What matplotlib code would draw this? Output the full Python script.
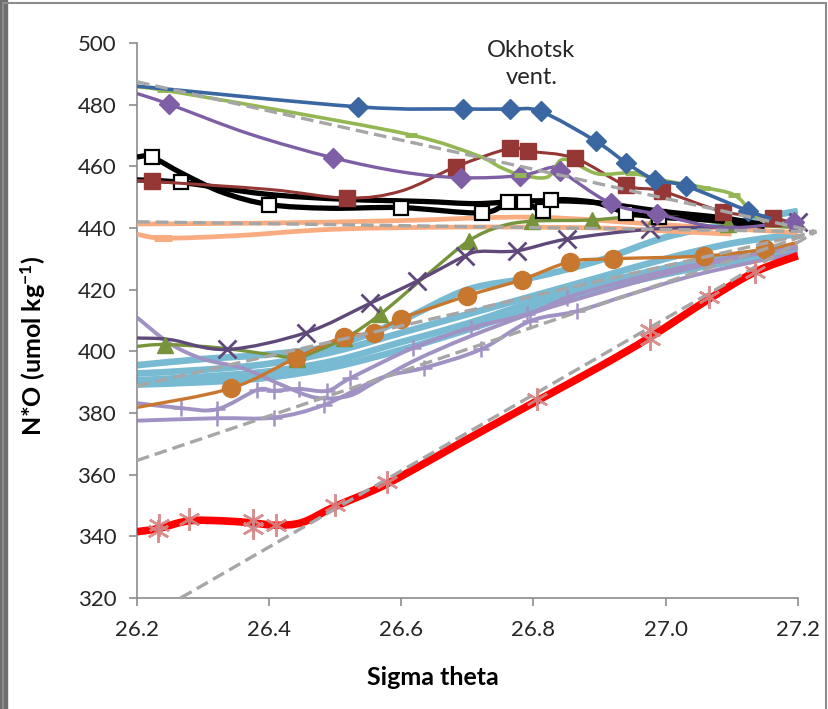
import matplotlib
matplotlib.use("Agg")
import matplotlib.pyplot as plt
from matplotlib.patches import Rectangle, PathPatch
from matplotlib.path import Path

plt.rcParams['font.family'] = ['Lato', 'DejaVu Sans']
plt.rcParams['mathtext.default'] = 'regular'

# mixing lines (gray dashed): start points, all meet at one end point
mix_x0 = [26.2, 26.2, 26.2, 26.2, 26.266]
mix_y0 = [487.4, 442.0, 388.8, 364.6, 320.0]
mix_end = (27.228, 438.8)

# light blue band
lb_x = [26.2, 26.3, 26.4, 26.5, 26.6, 26.7, 26.8, 26.9, 27.0, 27.1, 27.2]
lb1_y = [395.5, 397.5, 399.0, 402.0, 410.0, 420.0, 424.0, 429.5, 437.0, 441.5, 445.5]
lb2_y = [392.8, 394.0, 396.0, 400.0, 406.0, 412.0, 418.0, 424.0, 430.0, 435.0, 438.0]
lb3_y = [390.6, 391.8, 393.5, 397.0, 403.0, 409.0, 416.0, 422.0, 427.0, 431.0, 433.5]
lb4_y = [389.2, 390.0, 391.5, 395.0, 400.5, 407.0, 414.0, 420.0, 425.0, 429.0, 431.5]

# lavender lines with + markers
lv1_x = [26.2, 26.25, 26.3, 26.36, 26.42, 26.47, 26.52, 26.56, 26.62, 26.7, 26.8, 26.9, 27.0, 27.1, 27.2]
lv1_y = [411.0, 402.5, 397.5, 394.5, 389.0, 385.0, 385.5, 390.0, 397.0, 404.5, 412.5, 419.0, 425.0, 430.0, 434.0]
lv2_x = [26.2, 26.266, 26.321, 26.382, 26.407, 26.445, 26.488, 26.523, 26.618, 26.705, 26.79, 26.851, 26.921, 27.0, 27.1, 27.2]
lv2_y = [383.2, 381.6, 381.2, 387.5, 387.2, 387.8, 387.2, 391.3, 401.1, 407.6, 412.0, 417.4, 421.8, 426.0, 430.5, 433.5]
lv3_x = [26.2, 26.321, 26.407, 26.483, 26.568, 26.634, 26.72, 26.795, 26.866, 26.947, 27.05, 27.2]
lv3_y = [377.5, 378.3, 378.5, 382.6, 391.3, 394.6, 400.6, 409.8, 413.0, 418.5, 425.0, 432.0]

# salmon lines
sa1_x = [26.2, 26.4, 26.6, 26.8, 27.0, 27.2]
sa1_y = [441.3, 441.6, 442.4, 443.5, 441.0, 438.5]
sa2_x = [26.2, 26.24, 26.35, 26.5, 26.7, 26.9, 27.0, 27.1]
sa2_y = [438.0, 436.7, 437.5, 439.6, 440.3, 440.0, 439.0, 438.0]

# blue diamonds
bl_x = [26.2, 26.534, 26.694, 26.764, 26.811, 26.894, 26.94, 26.984, 27.031, 27.124, 27.16]
bl_y = [486.0, 479.3, 478.6, 478.5, 477.8, 468.2, 461.2, 455.6, 453.6, 445.6, 443.0]

# light green with dash markers
gl_x = [26.2, 26.24, 26.4, 26.614, 26.715, 26.75, 26.78, 26.821, 26.846, 26.896, 26.947, 26.997, 27.058, 27.103, 27.129, 27.149, 27.2]
gl_y = [485.8, 484.7, 478.8, 470.2, 463.5, 459.7, 457.3, 456.5, 462.3, 457.6, 457.8, 455.4, 453.1, 450.8, 445.6, 442.3, 441.0]

# purple diamonds
pd_x = [26.2, 26.248, 26.37, 26.496, 26.6, 26.69, 26.78, 26.826, 26.84, 26.917, 26.987, 27.088, 27.194]
pd_y = [483.6, 480.2, 470.5, 462.8, 458.2, 456.3, 457.0, 459.6, 458.6, 448.0, 444.5, 440.1, 442.0]

# dark red squares
dr_x = [26.2, 26.222, 26.4, 26.518, 26.6, 26.683, 26.764, 26.792, 26.863, 26.94, 26.994, 27.087, 27.163, 27.19]
dr_y = [455.3, 455.1, 452.5, 449.7, 452.0, 459.9, 465.8, 464.9, 462.6, 453.8, 452.0, 445.3, 443.2, 441.8]

# black lines with open squares
bk1_x = [26.2, 26.222, 26.27, 26.33, 26.4, 26.49, 26.6, 26.722, 26.762, 26.786, 26.814, 26.826, 26.89, 26.94, 26.99, 27.07, 27.15]
bk1_y = [463.0, 463.0, 457.5, 451.5, 447.6, 446.4, 446.6, 444.9, 448.5, 448.4, 445.6, 449.0, 448.4, 445.0, 443.5, 442.5, 440.5]
bk2_x = [26.2, 26.266, 26.394, 26.514, 26.634, 26.714, 26.794, 26.89, 26.994, 27.082, 27.146]
bk2_y = [455.6, 454.8, 451.0, 449.3, 448.6, 447.9, 448.8, 448.3, 445.4, 443.4, 441.2]

# green triangles
gt_x = [26.2, 26.243, 26.33, 26.43, 26.442, 26.514, 26.568, 26.64, 26.702, 26.75, 26.798, 26.888, 26.986, 27.094, 27.194]
gt_y = [401.6, 402.2, 401.0, 398.0, 397.6, 404.2, 412.0, 425.0, 435.8, 440.5, 442.2, 442.6, 444.0, 441.4, 440.2]

# dark purple crosses
px_x = [26.2, 26.25, 26.336, 26.455, 26.553, 26.624, 26.697, 26.72, 26.775, 26.851, 26.977, 27.1, 27.2]
px_y = [404.3, 403.8, 400.6, 406.0, 415.6, 422.8, 431.0, 432.4, 432.6, 436.4, 439.6, 440.5, 442.0]

# orange circles
oc_x = [26.2, 26.342, 26.44, 26.514, 26.558, 26.6, 26.7, 26.782, 26.855, 26.92, 27.058, 27.151, 27.2]
oc_y = [381.8, 388.0, 397.8, 404.8, 405.9, 410.6, 418.0, 423.2, 429.0, 430.0, 430.9, 433.1, 435.3]

# red line and its asterisk markers
rd_x = [26.2, 26.232, 26.278, 26.33, 26.376, 26.41, 26.45, 26.499, 26.578, 26.7, 26.806, 26.9, 26.976, 27.066, 27.136, 27.2]
rd_y = [341.5, 342.5, 345.0, 345.0, 344.3, 343.6, 344.5, 349.6, 357.0, 371.5, 384.0, 395.0, 404.5, 417.0, 425.8, 431.0]
ast_x = [26.232, 26.234, 26.278, 26.376, 26.376, 26.41, 26.499, 26.578, 26.806, 26.976, 26.976, 27.066, 27.136]
ast_y = [341.6, 343.8, 345.6, 342.7, 345.3, 343.6, 350.1, 357.7, 384.5, 404.1, 406.8, 417.5, 425.8]


def smooth_path(xs, ys):
    # Excel style smoothed line: cubic bezier through the points
    n = len(xs)
    verts = [(xs[0], ys[0])]
    codes = [Path.MOVETO]
    for i in range(n - 1):
        a = max(i - 1, 0)
        d = min(i + 2, n - 1)
        c1 = (xs[i] + (xs[i + 1] - xs[a]) / 6, ys[i] + (ys[i + 1] - ys[a]) / 6)
        c2 = (xs[i + 1] - (xs[d] - xs[i]) / 6, ys[i + 1] - (ys[d] - ys[i]) / 6)
        verts += [c1, c2, (xs[i + 1], ys[i + 1])]
        codes += [Path.CURVE4] * 3
    return Path(verts, codes)


def series(ax, xs, ys, color, lw, z, marks=None, **mk):
    ax.add_patch(PathPatch(smooth_path(xs, ys), fill=False, ec=color, lw=lw,
                           capstyle='butt', joinstyle='round', zorder=z))
    if marks is not None:
        ax.plot([xs[i] for i in marks], [ys[i] for i in marks], linestyle='none',
                color=color, zorder=z + 0.1, **mk)


fig = plt.figure(figsize=(8.29, 7.09), dpi=100)
ax = fig.add_axes([0.1653, 0.1566, 0.8237, 0.7828])

for y in [lb1_y, lb2_y, lb3_y, lb4_y]:
    series(ax, lb_x, y, '#78BAD2', 4.8, 1)

lav = '#A192C4'
series(ax, lv1_x, lv1_y, lav, 2.8, 2)
series(ax, lv2_x, lv2_y, lav, 2.8, 2, list(range(1, 12)), marker='+', ms=12, mew=1.8)
series(ax, lv3_x, lv3_y, lav, 2.8, 2, [1, 2, 3, 5, 6, 7, 8], marker='+', ms=12, mew=1.8)

sal = '#F8AC80'
series(ax, sa1_x, sa1_y, sal, 3.4, 3)
series(ax, sa2_x, sa2_y, sal, 3.4, 3, [1], marker='_', ms=13, mew=5)

series(ax, gt_x, gt_y, '#77933C', 2.4, 4, [1, 4, 5, 6, 8, 10, 11, 12, 13], marker='^', ms=12)
series(ax, px_x, px_y, '#5F497A', 2.4, 4, [2, 3, 4, 5, 6, 8, 9, 10, 12], marker='x', ms=13, mew=2)
series(ax, oc_x, oc_y, '#C8772F', 2.4, 4, list(range(1, 12)), marker='o', ms=13)

series(ax, bk2_x, bk2_y, 'black', 3.8, 4, [1], marker='s', ms=10, mfc='white', mec='black', mew=1.6)
series(ax, bk1_x, bk1_y, 'black', 3.8, 4, [1, 4, 6, 7, 8, 9, 10, 11, 13, 14],
       marker='s', ms=10, mfc='white', mec='black', mew=1.6)

series(ax, dr_x, dr_y, '#953735', 2.2, 5, [1, 3, 5, 6, 7, 8, 9, 10, 11, 12], marker='s', ms=12)
series(ax, pd_x, pd_y, '#7E5FA6', 2.4, 5, [1, 3, 5, 6, 8, 9, 10, 12], marker='D', ms=10)
series(ax, gl_x, gl_y, '#93B853', 2.6, 5, [1, 3, 6, 10, 12, 13], marker='_', ms=9, mew=3.5)
series(ax, bl_x, bl_y, '#3A66A2', 2.6, 6, list(range(1, 10)), marker='D', ms=10)

series(ax, rd_x, rd_y, '#FF0000', 5.5, 6)

for x0, y0 in zip(mix_x0, mix_y0):
    ax.plot([x0, mix_end[0]], [y0, mix_end[1]], color='#A6A6A6', lw=2.4,
            linestyle=(0, (3.8, 1.8)), zorder=7, clip_on=False)

ax.plot(ast_x, ast_y, linestyle='none', marker=(6, 2, 0), ms=16, mew=1.8,
        color='#D58585', alpha=0.9, zorder=8)

ax.text(26.797, 493.2, 'Okhotsk\nvent.', ha='center', va='center', fontsize=17,
        color='#262626', linespacing=1.35)

ax.set_xlim(26.2, 27.2335)
ax.set_ylim(320, 500)
ax.set_xticks([26.2, 26.4, 26.6, 26.8, 27.0, 27.2])
ax.set_xticklabels(['26.2', '26.4', '26.6', '26.8', '27.0', '27.2'])
ax.set_yticks(range(320, 501, 20))

for s in ['top', 'right']:
    ax.spines[s].set_visible(False)
for s in ['left', 'bottom']:
    ax.spines[s].set_color('#8C8C8C')
    ax.spines[s].set_linewidth(1.2)
ax.spines['bottom'].set_bounds(26.2, 27.2)
ax.tick_params(axis='both', colors='#8C8C8C', length=6, width=1.2, labelsize=16,
               labelcolor='#262626')
ax.tick_params(axis='x', pad=10)
ax.tick_params(axis='y', pad=9)

ax.set_xlabel('Sigma theta', fontsize=18, fontweight='bold')
ax.xaxis.set_label_coords(0.433, -0.122)
ax.set_ylabel('N*O (umol kg$^{-1}$)', fontsize=18, fontweight='bold')
ax.yaxis.set_label_coords(-0.13, 0.455)

# chart border and left edge strip
fig.patches.append(Rectangle((0.004, -0.01), 0.992, 1.006, transform=fig.transFigure,
                             fill=False, ec='#8C8C8C', lw=1.5))
fig.patches.append(Rectangle((0, 0), 0.009, 1, transform=fig.transFigure,
                             color='#6E6E6E', zorder=0))

fig.savefig('out.png', dpi=100)
